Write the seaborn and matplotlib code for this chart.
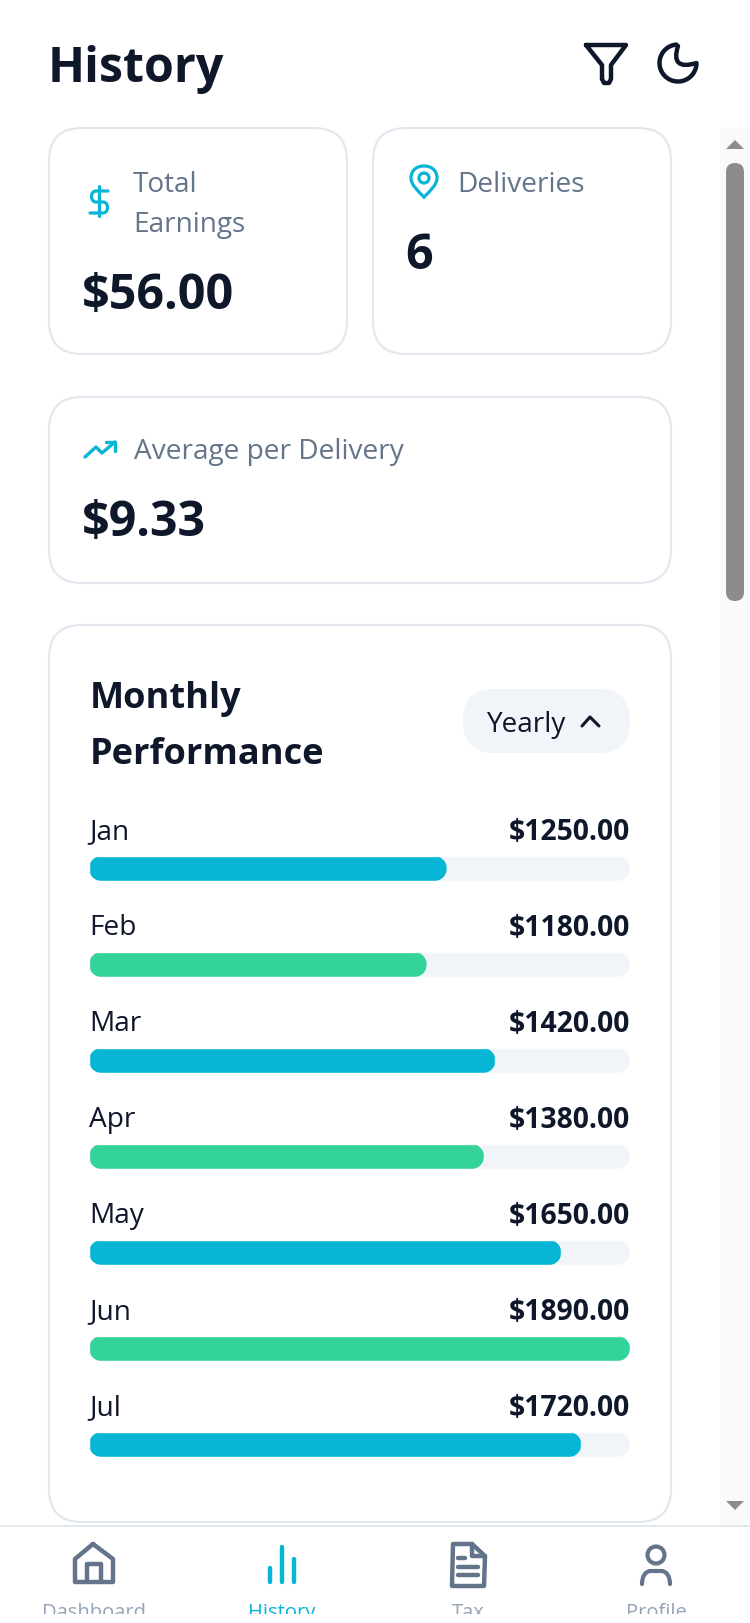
#!/usr/bin/env python3
"""History screen of the delivery app, monthly earnings as rounded bars."""

import numpy as np
import pandas as pd
import matplotlib
matplotlib.use("Agg")
import matplotlib.pyplot as plt
import seaborn as sns
from matplotlib.patches import Circle, FancyBboxPatch, PathPatch, Polygon, Rectangle
from matplotlib.path import Path

months = ["Jan", "Feb", "Mar", "Apr", "May", "Jun", "Jul"]
earnings = [1250, 1180, 1420, 1380, 1650, 1890, 1720]
bar_colors = ["#06b6d4", "#34d399", "#06b6d4", "#34d399", "#06b6d4", "#34d399", "#06b6d4"]
nav_labels = ["Dashboard", "History", "Tax", "Profile"]

INK = "#0f172a"
SLATE = "#64748b"
MUTED = "#94a3b8"
CYAN = "#06b6d4"
BORDER = "#e2e8ee"
TRACK = "#f1f5f9"
W, H = 750, 1624

sns.set_theme(style="white")
plt.rcParams["font.family"] = ["Open Sans", "DejaVu Sans"]

fig = plt.figure(figsize=(W / 100, H / 100), dpi=100, facecolor="white")

# page layer, works in screen pixels with y going down
ui = fig.add_axes([0, 0, 1, 1])
ui.set_xlim(0, W)
ui.set_ylim(H, 0)
ui.set_axis_off()


def rounded(x0, y0, x1, y1, r, face="white", edge="none", lw=0.0, z=1):
    box = FancyBboxPatch((x0, y0), x1 - x0, y1 - y0, boxstyle=f"round,pad=0,rounding_size={r}",
                         facecolor=face, edgecolor=edge, linewidth=lw, zorder=z)
    ui.add_patch(box)


def label(x, y, s, size, color=INK, weight="normal", ha="left"):
    return ui.text(x, y, s, fontsize=size, color=color, fontweight=weight, ha=ha, va="baseline", zorder=5)


def stroke(points, color, lw=3.0, closed=False):
    xs, ys = zip(*points)
    if closed:
        xs, ys = xs + xs[:1], ys + ys[:1]
    ui.plot(xs, ys, color=color, lw=lw, solid_capstyle="round", solid_joinstyle="round", zorder=4)


def curve(verts, codes, color, lw=3.0, face="none"):
    ui.add_patch(PathPatch(Path(verts, codes), facecolor=face, edgecolor=color, lw=lw,
                           capstyle="round", joinstyle="round", zorder=4))


def pill_path(x, y, w, h, rx, ry):
    # rectangle with elliptical corners, rx and ry in the units of x and y
    k = 0.5523
    x1, y1 = x + w, y + h
    verts = [(x + rx, y), (x1 - rx, y),
             (x1 - rx + k * rx, y), (x1, y + ry - k * ry), (x1, y + ry), (x1, y1 - ry),
             (x1, y1 - ry + k * ry), (x1 - rx + k * rx, y1), (x1 - rx, y1), (x + rx, y1),
             (x + rx - k * rx, y1), (x, y1 - ry + k * ry), (x, y1 - ry), (x, y + ry),
             (x, y + ry - k * ry), (x + rx - k * rx, y), (x + rx, y), (x + rx, y)]
    codes = [M, L, C4, C4, C4, L, C4, C4, C4, L, C4, C4, C4, L, C4, C4, C4, Path.CLOSEPOLY]
    return Path(verts, codes)


M, L, C3, C4 = Path.MOVETO, Path.LINETO, Path.CURVE3, Path.CURVE4

# header
label(48, 82, "History", 34.8, weight="bold")
stroke([(586, 46), (626, 46), (611, 66), (611, 80), (609, 84), (604, 84), (602, 80), (602, 66)], INK, 3.2, closed=True)
theta = np.radians(np.linspace(95, 360, 50))
moon = list(zip(678 + 18.5 * np.cos(theta), 64 - 18.5 * np.sin(theta)))
curve(moon + [(670, 72), (678, 47)], [M] + [L] * 49 + [C3, C3], INK, 3.2)

# scroll bar
ui.add_patch(Rectangle((720, 128), 30, 1399, facecolor="#fafafa", edgecolor="none", zorder=0))
rounded(726, 164, 744, 602, 9, face="#8c8c8c", z=1)
ui.add_patch(Polygon([(735, 141), (726, 150), (744, 150)], facecolor="#8c8c8c", edgecolor="none", zorder=1))
ui.add_patch(Polygon([(735, 1511), (726, 1502), (744, 1502)], facecolor="#8c8c8c", edgecolor="none", zorder=1))

# stat cards
rounded(49, 129, 347, 355, 33, edge=BORDER, lw=1.6)
rounded(373, 129, 671, 355, 33, edge=BORDER, lw=1.6)
rounded(49, 398, 671, 584, 33, edge=BORDER, lw=1.6)
rounded(49, 626, 671, 1523, 33, edge=BORDER, lw=1.6)

label(133, 192, "Total", 20.2, SLATE)
label(133, 232, "Earnings", 20.2, SLATE)
label(82, 309, "$56.00", 34.8, weight="bold")
label(457, 192, "Deliveries", 20.2, SLATE)
label(405, 269, "6", 34.8, weight="bold")
label(134, 459.5, "Average per Delivery", 20.2, SLATE)
label(82, 536, "$9.33", 34.8, weight="bold")

# dollar, pin and trend icons
stroke([(99, 187), (99, 217)], CYAN, 2.3)
curve([(108, 192), (96, 192), (90, 192), (90, 203), (96, 203), (103, 203), (109, 203), (109, 214), (103, 214), (90, 214)],
      [M, L, C4, C4, C4, L, C4, C4, C4, L], CYAN, 2.3)
curve([(424, 198), (418, 192), (411, 186), (411, 179), (411, 171), (417, 167), (424, 167), (431, 167), (437, 171),
       (437, 179), (437, 186), (430, 192), (424, 198)],
      [M, C4, C4, C4, C4, C4, C4, C4, C4, C4, C4, C4, C4], CYAN, 2.3)
ui.add_patch(Circle((424, 179), 5, facecolor="none", edgecolor=CYAN, lw=2.3, zorder=4))
stroke([(85, 458), (96, 448), (102, 454), (115, 443)], CYAN, 2.4)
stroke([(106, 443), (115, 443), (115, 452)], CYAN, 2.4)

# monthly performance header
label(90, 708, "Monthly", 26, weight="bold")
label(90, 764, "Performance", 26, weight="bold")
rounded(463, 690, 630, 754, 31, face=TRACK, z=2)
label(486, 732, "Yearly", 20.1)
stroke([(582, 727), (590, 718), (599, 727)], INK, 2.2)

# bars live in their own axes, 96 px per month and 541 px for the longest
frame = pd.DataFrame({"month": months, "earnings": earnings, "track": max(earnings)})
ax = fig.add_axes([89 / W, 1 - 1493.5 / H, 541 / W, 672 / H], facecolor="none")
sns.barplot(data=frame, x="track", y="month", color=TRACK, saturation=1, width=0.26, ax=ax)
sns.barplot(data=frame, x="earnings", y="month", hue="month", palette=bar_colors, saturation=1,
            width=0.26, dodge=False, legend=False, ax=ax)
ax.set_xlim(0, max(earnings))
ax.set_ylim(len(months) - 0.5, -0.5)
ax.set_axis_off()

# pill ends: every seaborn bar is clipped by a rounded box of the same size
x_per_px = max(earnings) / 541
y_per_px = 1 / 96
for bar in ax.patches:
    outline = pill_path(bar.get_x(), bar.get_y(), bar.get_width(), bar.get_height(),
                        12.5 * x_per_px, 12.5 * y_per_px)
    bar.set_clip_path(outline, transform=ax.transData)

for i, (month, value) in enumerate(zip(months, earnings)):
    ax.text(0, i - 0.318, month, fontsize=20.2, color=INK, va="baseline", ha="left")
    ax.text(max(earnings), i - 0.31, f"${value:.2f}", fontsize=20.3, fontweight="bold", color=INK,
            va="baseline", ha="right")

# bottom navigation
ui.add_patch(Rectangle((0, 1526), W, 2, facecolor=BORDER, edgecolor="none", zorder=3))
stroke([(93, 1545), (113, 1560), (113, 1583), (75, 1583), (75, 1560)], SLATE, 3.2, closed=True)
stroke([(87, 1583), (87, 1565), (101, 1565), (101, 1583)], SLATE, 3.2)
for x, top in [(270, 1569), (282, 1548), (294, 1560)]:
    stroke([(x, top), (x, 1583)], CYAN, 3.2)
stroke([(472, 1545), (453, 1545), (452, 1587), (484, 1587), (485, 1557)], SLATE, 3.2, closed=True)
stroke([(472, 1545), (472, 1557), (485, 1557)], SLATE, 3.2)
stroke([(458, 1559), (465, 1559)], SLATE, 3.2)
stroke([(458, 1568), (478, 1568)], SLATE, 3.2)
stroke([(458, 1576), (478, 1576)], SLATE, 3.2)
ui.add_patch(Circle((656, 1556), 8.5, facecolor="none", edgecolor=SLATE, lw=3.0, zorder=4))
curve([(642, 1585), (642, 1578), (645, 1572), (651, 1572), (661, 1572), (667, 1572), (670, 1578), (670, 1585)],
      [M, C4, C4, C4, L, C4, C4, C4], SLATE, 3.0)

# the labels run off the bottom of the scroll view
nav_clip = Rectangle((0, 1527), W, 88, transform=ui.transData)
nav_x = [94, 282, 468, 656]
for x, name in zip(nav_x, nav_labels):
    color = CYAN if name == "History" else MUTED
    t = label(x, 1618, name, 14.5, color, ha="center")
    t.set_clip_on(True)
    t.set_clip_path(nav_clip)

fig.savefig("out.png", dpi=100, facecolor="white")
